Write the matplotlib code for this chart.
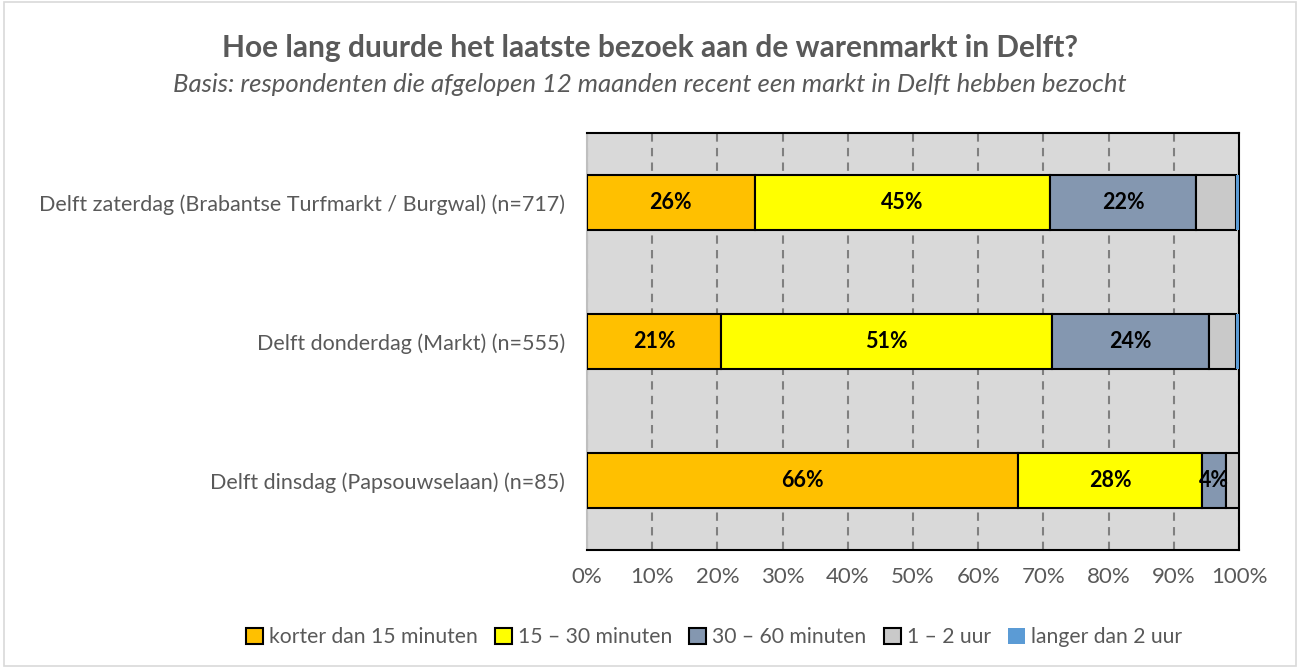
import numpy as np
import matplotlib.pyplot as plt
from matplotlib.patches import Rectangle

plt.rcParams['font.family'] = ['Lato', 'DejaVu Sans']

# Data
categories = ["Delft zaterdag (Brabantse Turfmarkt / Burgwal) (n=717)",
              "Delft donderdag (Markt) (n=555)",
              "Delft dinsdag (Papsouwselaan) (n=85)"]
series_names = ["korter dan 15 minuten", "15 \u2013 30 minuten", "30 \u2013 60 minuten",
                "1 \u2013 2 uur", "langer dan 2 uur"]
korter_15 = [25.7, 20.6, 66.1]
min_15_30 = [45.3, 50.7, 28.3]
min_30_60 = [22.4, 24.1, 3.6]
uur_1_2 = [6.1, 4.1, 2.0]
langer_2 = [0.5, 0.5, 0.0]
values = [korter_15, min_15_30, min_30_60, uur_1_2, langer_2]
labelled = [True, True, True, False, False]

colors = ['#FFC000', '#FFFF00', '#8497B0', '#C9C9C9', '#5B9BD5']
edges = ['black', 'black', 'black', 'black', 'none']
txt_gray = '#595959'

fig = plt.figure(figsize=(13, 6.68), dpi=100)
ax = fig.add_axes([587 / 1300, 1 - 550 / 668, 652 / 1300, 417 / 668])
ax.set_facecolor('#D9D9D9')

y = np.arange(len(categories))[::-1]
left = np.zeros(len(categories))
for vals, name, col, ec, lab in zip(values, series_names, colors, edges, labelled):
    vals = np.array(vals) / 100
    bars = ax.barh(y, vals, left=left, height=0.4, color=col, edgecolor=ec,
                   linewidth=1.5, label=name, zorder=3)
    if lab:
        for b, v in zip(bars, vals):
            ax.text(b.get_x() + b.get_width() / 2, b.get_y() + b.get_height() / 2,
                    f"{v * 100:.0f}%", ha='center', va='center', fontsize=15.5,
                    fontweight='bold', color='black', zorder=4)
    left += vals

ax.set_xlim(0, 1)
ax.set_ylim(-0.5, 2.5)
ax.set_xticks(np.arange(0, 1.01, 0.1))
ax.set_xticklabels([f"{int(t * 100)}%" for t in np.arange(0, 1.01, 0.1)])
ax.set_yticks(y)
ax.set_yticklabels(categories)
ax.tick_params(axis='both', length=0, labelsize=16, colors=txt_gray, pad=12)
ax.tick_params(axis='y', labelsize=15.5, pad=16)
ax.xaxis.grid(True, color='#808080', linestyle=(0, (4, 3)), linewidth=1.5, zorder=1)
for s in ['top', 'right', 'bottom']:
    ax.spines[s].set_color('black')
    ax.spines[s].set_linewidth(1.5)
ax.spines['left'].set_color('#BFBFBF')
ax.spines['left'].set_linewidth(1.5)

fig.text(0.5, 1 - 48 / 668, "Hoe lang duurde het laatste bezoek aan de warenmarkt in Delft?",
         ha='center', va='center', fontsize=21.5, fontweight='bold', color=txt_gray)
fig.text(0.5, 1 - 85 / 668,
         "Basis: respondenten die afgelopen 12 maanden recent een markt in Delft hebben bezocht",
         ha='center', va='center', fontsize=18.5, style='italic', color=txt_gray)

fig.legend(loc='center', bbox_to_anchor=(714 / 1300, 1 - 637 / 668), ncol=5,
           frameon=False, fontsize=15.2, handlelength=0.8, handleheight=0.8,
           handletextpad=0.3, columnspacing=0.8, labelcolor=txt_gray)

fig.patches.append(Rectangle((0.003, 0.003), 0.994, 0.994, transform=fig.transFigure,
                             fill=False, edgecolor='#D9D9D9', linewidth=1.2))

fig.savefig('out.png', dpi=100)
